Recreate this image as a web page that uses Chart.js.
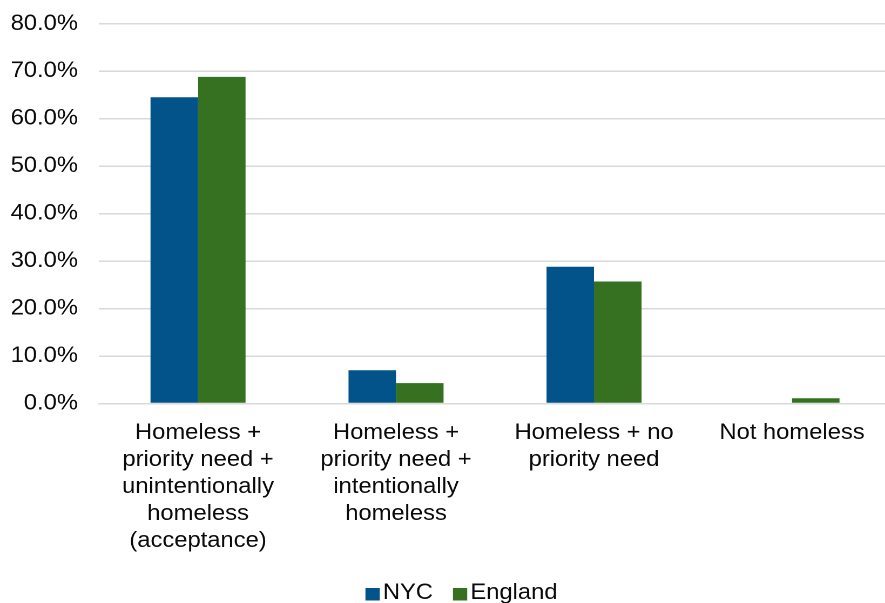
<!DOCTYPE html>
<html><head><meta charset="utf-8">
<script src="https://cdn.jsdelivr.net/npm/chart.js@4/dist/chart.umd.min.js"></script>
<style>
html,body{margin:0;padding:0;overflow:hidden;background:#fff;width:885px;height:603px}
#wrap{position:absolute;left:0;top:-9px;width:854px;height:623px;transform:scaleX(1.08);transform-origin:0 0}
</style></head><body>
<div id="wrap"><canvas id="c" width="854" height="623"></canvas></div>
<script>
const categories = [
  ["Homeless +", "priority need +", "unintentionally", "homeless", "(acceptance)"],
  ["Homeless +", "priority need +", "intentionally", "homeless"],
  ["Homeless + no", "priority need"],
  ["Not homeless"]
];
const seriesNames = ["NYC", "England"];
const seriesColors = ["#02538a", "#357121"];
const nycValues = [64.5, 7.0, 28.8, 0];
const englandValues = [68.8, 4.3, 25.7, 1.1];
const yMin = 0, yMax = 80, yStep = 10;

const FONT = 'Liberation Sans, Arial, sans-serif';
const TEXT = '#0a0a0a';

// centre the legend on the full canvas width and draw its squares next to the labels
const legendSquares = {
  id: 'legendSquares',
  afterLayout(chart) {
    if (chart.legend) chart.legend.right += 29.6;
  },
  afterDraw(chart) {
    const lg = chart.legend;
    if (!lg || !lg.legendHitBoxes) return;
    const ctx = chart.ctx;
    ctx.save();
    lg.legendHitBoxes.forEach((hb, i) => {
      ctx.fillStyle = seriesColors[i];
      ctx.fillRect(hb.left, hb.top + 6, 13.2, 12.5);
    });
    ctx.restore();
  }
};

new Chart(document.getElementById('c'), {
  type: 'bar',
  data: {
    labels: categories,
    datasets: [
      { label: seriesNames[0], data: nycValues, backgroundColor: seriesColors[0], borderWidth: 0, categoryPercentage: 0.48, barPercentage: 1 },
      { label: seriesNames[1], data: englandValues, backgroundColor: seriesColors[1], borderWidth: 0, categoryPercentage: 0.48, barPercentage: 1 }
    ]
  },
  plugins: [legendSquares],
  options: {
    responsive: false,
    animation: false,
    devicePixelRatio: 2,
    layout: { padding: { left: 0, right: 29, top: 0, bottom: 0 } },
    plugins: {
      tooltip: { enabled: false },
      legend: {
        position: 'bottom',
        labels: {
          boxWidth: 5.1, boxHeight: 14, padding: 18.5, color: TEXT,
          font: { family: FONT, size: 22 },
          generateLabels: chart => Chart.defaults.plugins.legend.labels.generateLabels(chart)
            .map(l => Object.assign({}, l, { fillStyle: 'rgba(0,0,0,0)', strokeStyle: 'rgba(0,0,0,0)', lineWidth: 0 }))
        }
      }
    },
    scales: {
      x: {
        afterFit: s => { s.height = 160; },
        grid: { display: false, drawTicks: false },
        border: { display: true, color: '#d9d9d9', width: 1.5 },
        ticks: { color: TEXT, autoSkip: false, maxRotation: 0, padding: 16,
          font: { family: FONT, size: 22, lineHeight: 27/22 } }
      },
      y: {
        min: yMin, max: yMax,
        afterFit: s => { s.width = 91.7; },
        grid: { color: '#d9d9d9', lineWidth: 1.5, drawTicks: false },
        border: { display: false },
        ticks: { stepSize: yStep, padding: 19.5, color: TEXT,
          font: { family: FONT, size: 22 },
          callback: v => v.toFixed(1) + '%' }
      }
    }
  }
});
</script>
</body></html>
